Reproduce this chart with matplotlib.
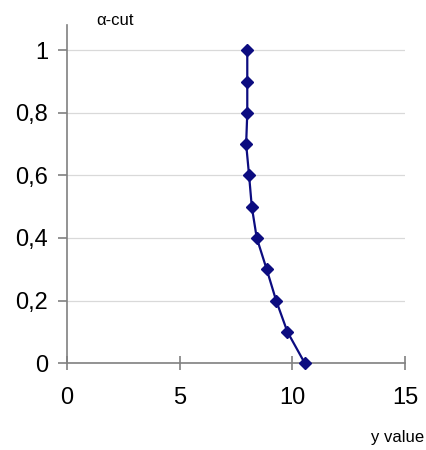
import matplotlib
matplotlib.use("Agg")

import matplotlib.pyplot as plt
from matplotlib.ticker import FuncFormatter

# alpha-cut levels and the matching y values
alpha = [0.0, 0.1, 0.2, 0.3, 0.4, 0.5, 0.6, 0.7, 0.8, 0.9, 1.0]
y_value = [10.55, 9.78, 9.28, 8.86, 8.42, 8.2, 8.08, 7.95, 8.0, 8.0, 8.0]

x_ticks = [0, 5, 10, 15]
y_ticks = [0, 0.2, 0.4, 0.6, 0.8, 1]

plt.rcParams["font.family"] = ["Liberation Sans", "DejaVu Sans"]

fig = plt.figure(figsize=(4.26, 4.5), dpi=100)
ax = fig.add_axes([0.157, 0.193, 0.794, 0.751])

ax.plot(y_value, alpha, color="#0c0c80", linewidth=1.6,
        marker="D", markersize=6.5, markerfacecolor="#0c0c80",
        markeredgecolor="#0c0c80", clip_on=False, zorder=3)

ax.set_xlim(0, 15)
ax.set_ylim(0, 1.08)
ax.set_xticks(x_ticks)
ax.set_yticks(y_ticks)
ax.yaxis.set_major_formatter(
    FuncFormatter(lambda v, p: ("%g" % round(v, 1)).replace(".", ",")))

ax.grid(axis="y", color="#d9d9d9", linewidth=0.9)
ax.set_axisbelow(True)

for s in ["top", "right"]:
    ax.spines[s].set_visible(False)
for s in ["left", "bottom"]:
    ax.spines[s].set_color("#808080")
    ax.spines[s].set_linewidth(1.2)

ax.tick_params(axis="x", direction="inout", length=10, width=1.2,
               color="#808080", labelsize=17, pad=12)
ax.tick_params(axis="y", direction="out", length=6.5, width=1.2,
               color="#808080", labelsize=17, pad=7)

fig.text(0.227, 0.955, "α-cut", fontsize=12, ha="left", va="center")
fig.text(0.995, 0.027, "y value", fontsize=12, ha="right", va="center")

fig.savefig("out.png", dpi=100)
